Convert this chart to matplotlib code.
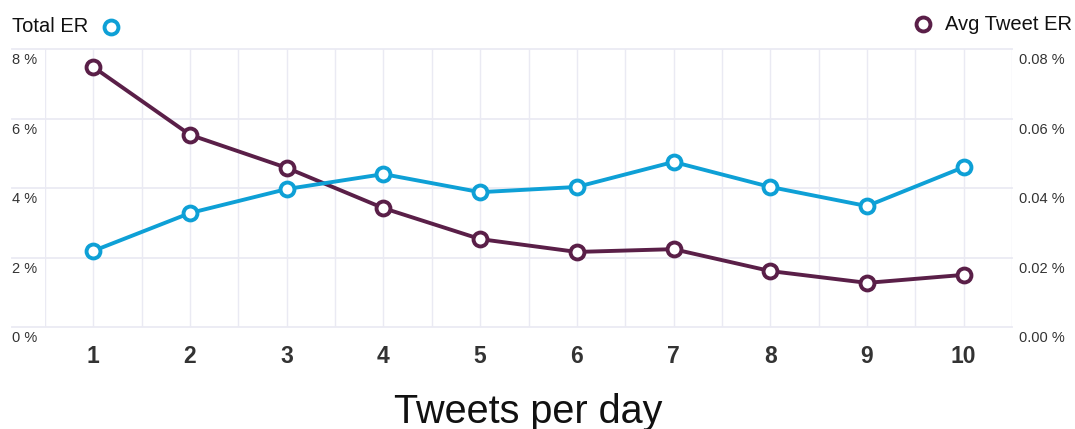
import matplotlib
matplotlib.use("Agg")
import matplotlib.pyplot as plt
import matplotlib.transforms as mtransforms
from matplotlib.lines import Line2D

plt.rcParams['font.family'] = ['Liberation Sans', 'DejaVu Sans']

tweets_per_day = [1, 2, 3, 4, 5, 6, 7, 8, 9, 10]
total_er = [2.19, 3.28, 3.97, 4.40, 3.88, 4.03, 4.75, 4.03, 3.48, 4.60]
avg_tweet_er = [0.0748, 0.0553, 0.0458, 0.0342, 0.0253, 0.0216, 0.0224, 0.0161, 0.0127, 0.0150]
left_ticks = [0, 2, 4, 6, 8]
right_ticks = [0.00, 0.02, 0.04, 0.06, 0.08]

BLUE = '#0ea0d6'
PURPLE = '#5a1f48'
GRID = '#eaeaf3'
TEXT = '#333333'

fig = plt.figure(figsize=(10.75, 4.29), dpi=100)
ax = fig.add_axes([45 / 1075, 1 - 327 / 429, (1012 - 45) / 1075, (327 - 49) / 429])
ax2 = ax.twinx()

ax.set_xlim(0.5, 10.5)
ax.set_ylim(0, 8)
ax2.set_ylim(0, 0.08)

for a in (ax, ax2):
    for s in a.spines.values():
        s.set_visible(False)
    a.tick_params(length=0)
    a.set_yticks([])

# the secondary axes sits underneath, so the grid goes there
ax.set_zorder(ax2.get_zorder() + 1)
ax.patch.set_visible(False)

# vertical grid at every half step
for xv in [x / 2 for x in range(1, 22)]:
    ax2.axvline(xv, color=GRID, lw=1, zorder=0)
# horizontal grid, extending out under the tick labels
ytrans = mtransforms.blended_transform_factory(fig.transFigure, ax.transData)
ytrans2 = mtransforms.blended_transform_factory(fig.transFigure, ax2.transData)
for yv in right_ticks:
    ax2.add_line(Line2D([12 / 1075, 1012 / 1075], [yv, yv], transform=ytrans2,
                        color=GRID, lw=1.3, zorder=0, clip_on=False))

# y tick labels sit just below their gridlines
for yv in left_ticks:
    ax.text(12 / 1075, yv - 0.12, f'{yv} %', transform=ytrans, ha='left', va='top',
            fontsize=10.5, color=TEXT)
for yv in right_ticks:
    ax2.text(1019 / 1075, yv - 0.0012, f'{yv:.2f} %', transform=ytrans2, ha='left', va='top',
             fontsize=10.5, color=TEXT)

ax.set_xticks(tweets_per_day)
ax.set_xticklabels([str(v) for v in tweets_per_day], fontsize=16.5, fontweight='bold', color=TEXT)
ax.tick_params(axis='x', pad=13)
fig.text(0.5 * (45 + 1012) / 1075, 1 - 423 / 429, 'Tweets per day', ha='center', va='baseline',
         fontsize=28.5, color='#111111')

ax2.plot(tweets_per_day, avg_tweet_er, color=PURPLE, lw=2.8, marker='o', ms=10,
         mfc='white', mec=PURPLE, mew=2.8, zorder=3, clip_on=False)
ax.plot(tweets_per_day, total_er, color=BLUE, lw=2.8, marker='o', ms=10,
        mfc='white', mec=BLUE, mew=2.8, zorder=3, clip_on=False)

# legend entries
fig.text(12 / 1075, 1 - 27 / 429, 'Total ER', ha='left', va='center', fontsize=14.5, color='#111111')
fig.add_artist(Line2D([111 / 1075], [1 - 27 / 429], marker='o', ms=10, mfc='white',
                      mec=BLUE, mew=2.8, transform=fig.transFigure))
fig.add_artist(Line2D([923 / 1075], [1 - 24 / 429], marker='o', ms=10, mfc='white',
                      mec=PURPLE, mew=2.8, transform=fig.transFigure))
fig.text(1072 / 1075, 1 - 24 / 429, 'Avg Tweet ER', ha='right', va='center', fontsize=14.5, color='#111111')

fig.savefig('out.png', dpi=100)
